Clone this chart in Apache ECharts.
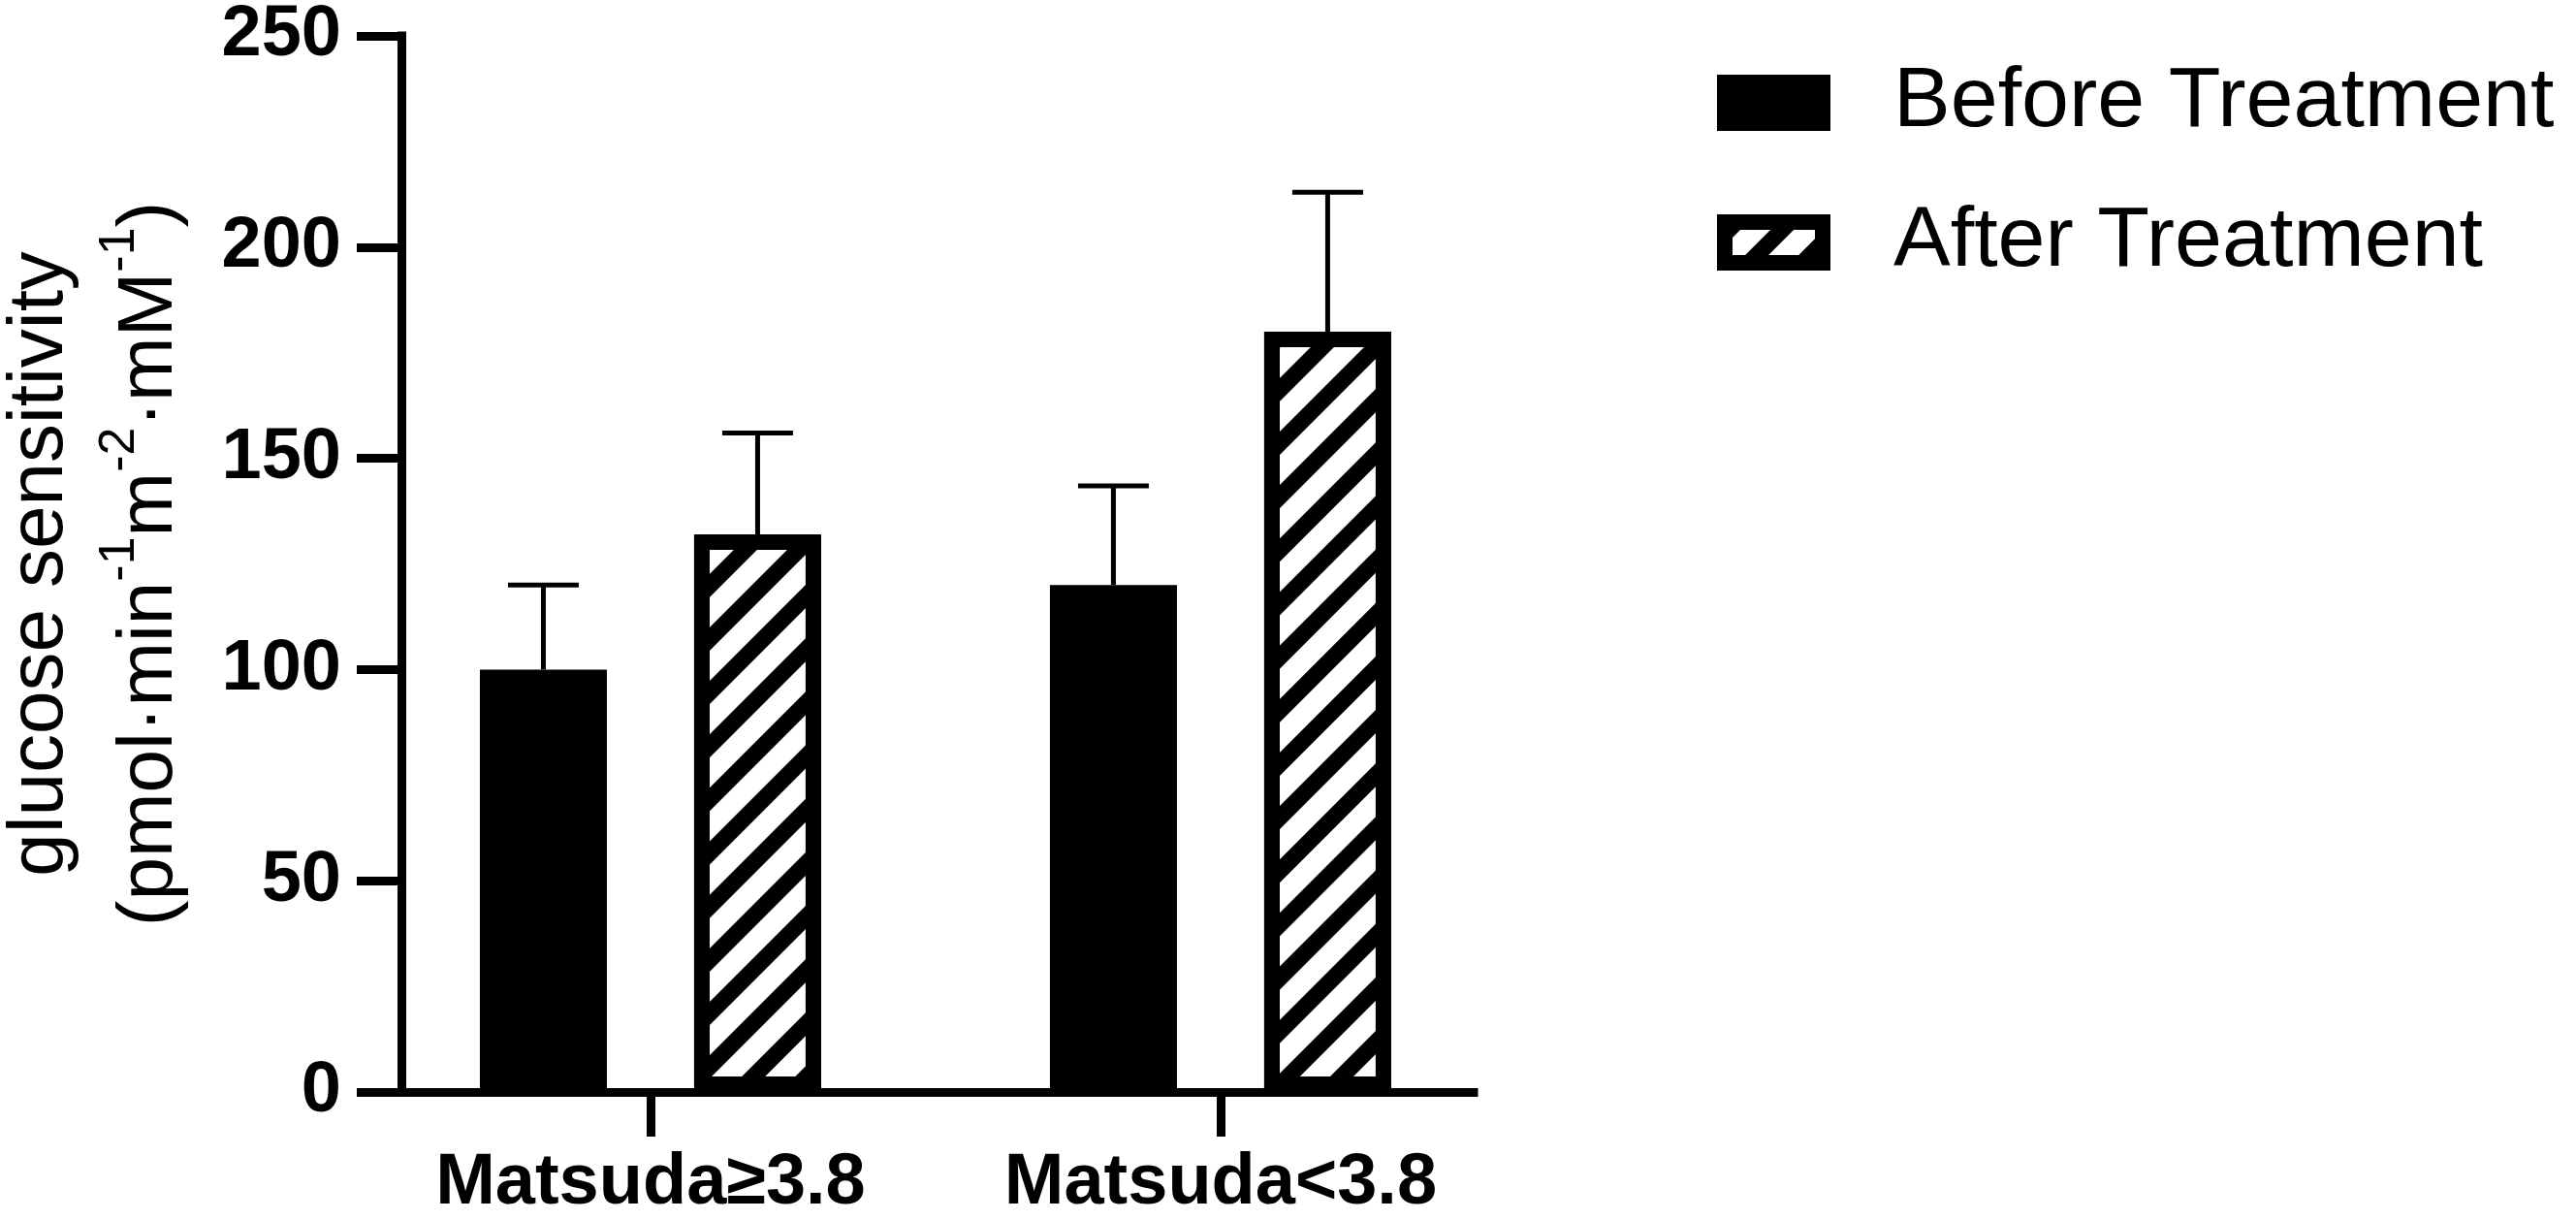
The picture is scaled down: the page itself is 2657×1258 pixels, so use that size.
<!DOCTYPE html>
<html><head><meta charset="utf-8">
<script src="https://cdn.jsdelivr.net/npm/echarts@6/dist/echarts.min.js"></script>
<style>html,body{margin:0;padding:0;background:#fff}#c{width:2657px;height:1258px}</style>
</head><body><div id="c"></div>
<script>
// ---- data ----
const categories = ['Matsuda\u22653.8', 'Matsuda<3.8'];
const seriesNames = ['Before Treatment', 'After Treatment'];
const beforeMean = [100, 120];
const afterMean = [132, 180];
const beforeErr = [20, 23.5];
const afterErr = [24, 33];
const yTicks = [0, 50, 100, 150, 200, 250];

// ---- style constants ----
const FONT = '"Liberation Sans", Arial, Helvetica, sans-serif';
const BAR_W = 131, BORDER = 16, GAP = 90;
const OFFSET = (BAR_W + GAP) / 2;
const CAP = 73;

const catIdx = categories.map((c, i) => i);
const toXY = vals => vals.map((v, i) => [catIdx[i], v]);
const errData = [];
catIdx.forEach(i => {
  errData.push([i, beforeMean[i], beforeMean[i] + beforeErr[i], -1]);
  errData.push([i, afterMean[i], afterMean[i] + afterErr[i], 1]);
});

const chart = echarts.init(document.getElementById('c'), null, {renderer: 'canvas'});
chart.setOption({
  animation: false,
  backgroundColor: '#fff',
  grid: {left: 414, right: 2657 - 1520, top: 29, bottom: 1258 - 1129, containLabel: false},
  legend: {
    orient: 'vertical', left: 1766, top: 57, itemWidth: 101, itemHeight: 42, itemGap: 56,
    icon: 'rect', selectedMode: false, data: seriesNames,
    itemStyle: {borderWidth: BORDER, borderColor: '#000'},
    formatter: n => '{t|' + n + '}',
    textStyle: {rich: {t: {fontSize: 88, fontFamily: FONT, color: '#000', padding: [0, 0, 0, 68]}}}
  },
  xAxis: {
    type: 'value', min: -0.437, max: 1.444,
    splitLine: {show: false},
    axisLine: {show: true, onZero: false, lineStyle: {color: '#000', width: 9, cap: 'square'}},
    axisTick: {show: true, customValues: catIdx, length: 46, lineStyle: {color: '#000', width: 9}},
    axisLabel: {customValues: catIdx, formatter: v => categories[Math.round(v)] || '',
      fontSize: 74, fontWeight: 'bold', fontFamily: FONT, color: '#000', margin: 58}
  },
  yAxis: {
    type: 'value', min: yTicks[0], max: yTicks[yTicks.length - 1], interval: 50,
    splitLine: {show: false},
    axisLine: {show: true, onZero: false, lineStyle: {color: '#000', width: 9, cap: 'square'}},
    axisTick: {show: true, length: 46, lineStyle: {color: '#000', width: 9}},
    axisLabel: {fontSize: 74, fontWeight: 'bold', fontFamily: FONT, color: '#000', margin: 62},
    name: '{t|glucose sensitivity}\n{b|(pmol\u00b7min}{s|-1}{b|m}{s|-2}{b|\u00b7mM}{s|-1}{b|)}',
    nameLocation: 'middle', nameRotate: 90, nameGap: 203,
    nameTextStyle: {
      fontFamily: FONT, color: '#000', fontSize: 80,
      rich: {
        t: {fontSize: 80, lineHeight: 113, fontFamily: FONT, color: '#000'},
        b: {fontSize: 80, lineHeight: 113, fontFamily: FONT, color: '#000'},
        s: {fontSize: 52, lineHeight: 52, fontFamily: FONT, color: '#000', verticalAlign: 'top'}
      }
    }
  },
  series: [
    {name: seriesNames[0], type: 'bar', data: toXY(beforeMean), barWidth: BAR_W,
     barGap: (GAP / BAR_W * 100) + '%',
     itemStyle: {color: '#000', borderColor: '#000', borderWidth: BORDER}},
    {name: seriesNames[1], type: 'bar', data: toXY(afterMean), barWidth: BAR_W,
     barGap: (GAP / BAR_W * 100) + '%',
     itemStyle: {color: '#fff', borderColor: '#000', borderWidth: BORDER,
       decal: {symbol: 'rect', symbolSize: 1, color: '#000', backgroundColor: null,
               dashArrayX: [1, 0], dashArrayY: [17, 22], rotation: -Math.PI / 4}}},
    {type: 'custom', name: 'err', data: errData, z: 1,
     encode: {x: 0, y: [1, 2]},
     renderItem: (params, api) => {
       const x = api.value(0), lo = api.value(1), hi = api.value(2), side = api.value(3);
       const p0 = api.coord([x, lo]), p1 = api.coord([x, hi]);
       const cx = p0[0] + side * OFFSET;
       return {type: 'group', children: [
         {type: 'line', shape: {x1: cx, y1: p0[1], x2: cx, y2: p1[1]}, style: {stroke: '#000', lineWidth: 5}},
         {type: 'line', shape: {x1: cx - CAP / 2, y1: p1[1], x2: cx + CAP / 2, y2: p1[1]}, style: {stroke: '#000', lineWidth: 5}}
       ]};
     }}
  ]
});
</script></body></html>
